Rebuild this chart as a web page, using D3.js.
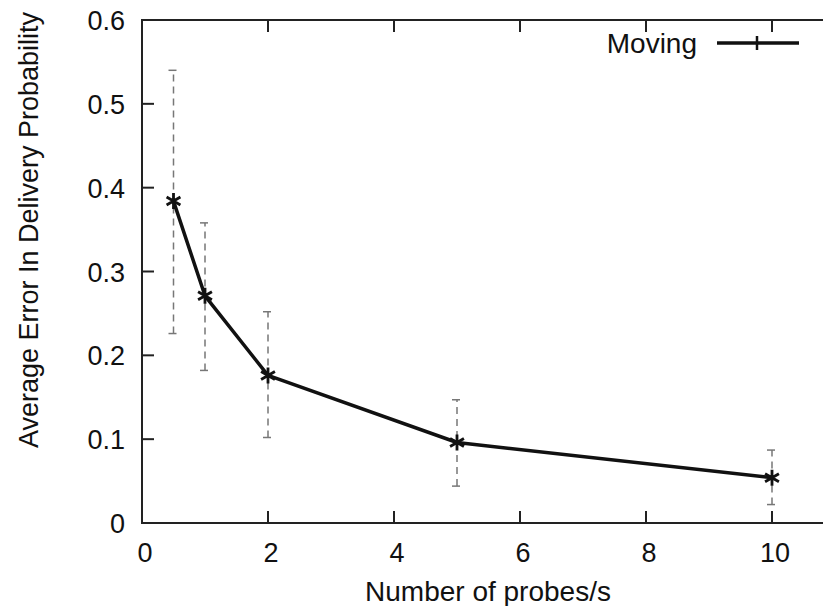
<!DOCTYPE html>
<html><head><meta charset="utf-8">
<script src="https://cdn.jsdelivr.net/npm/d3@7"></script>
<style>body{margin:0;background:#fff}svg{display:block}text{font-family:"Liberation Sans",Arial,sans-serif;fill:#111}</style>
</head><body><svg id="c" width="823" height="606"></svg>
<script>
const probes = [0.5, 1, 2, 5, 10];
const meanErr = [0.384, 0.271, 0.176, 0.096, 0.054];
const errLow = [0.226, 0.182, 0.102, 0.044, 0.022];
const errHigh = [0.540, 0.358, 0.252, 0.147, 0.087];
const xTicks = [0, 2, 4, 6, 8, 10];
const yTicks = [0, 0.1, 0.2, 0.3, 0.4, 0.5, 0.6];
const seriesName = "Moving";

const svg = d3.select("#c");
const x = d3.scaleLinear().domain([0, 11]).range([142, 835]);
const y = d3.scaleLinear().domain([0, 0.6]).range([523, 20]);
const L = 142, R = 835, T = 20, B = 523, tk = 12;
const FS = 27;

// frame
svg.append("rect").attr("x", L).attr("y", T).attr("width", R - L).attr("height", B - T)
  .attr("fill", "none").attr("stroke", "#222").attr("stroke-width", 2);

// ticks
xTicks.forEach(v => {
  svg.append("line").attr("x1", x(v)).attr("x2", x(v)).attr("y1", B).attr("y2", B - tk).attr("stroke", "#222").attr("stroke-width", 2);
  svg.append("line").attr("x1", x(v)).attr("x2", x(v)).attr("y1", T).attr("y2", T + tk).attr("stroke", "#222").attr("stroke-width", 2);
  svg.append("text").attr("x", x(v) + 3).attr("y", 562).attr("text-anchor", "middle").attr("font-size", FS).text(d3.format("d")(v));
});
yTicks.forEach(v => {
  svg.append("line").attr("x1", L).attr("x2", L + tk).attr("y1", y(v)).attr("y2", y(v)).attr("stroke", "#222").attr("stroke-width", 2);
  svg.append("line").attr("x1", R).attr("x2", R - tk).attr("y1", y(v)).attr("y2", y(v)).attr("stroke", "#222").attr("stroke-width", 2);
  svg.append("text").attr("x", 125).attr("y", y(v) + 10).attr("text-anchor", "end").attr("font-size", FS).text(v === 0 ? "0" : d3.format(".1f")(v));
});

// titles
svg.append("text").attr("x", 488).attr("y", 601).attr("text-anchor", "middle").attr("font-size", 28).text("Number of probes/s");
svg.append("text").attr("transform", "translate(38,230) rotate(-90)").attr("text-anchor", "middle").attr("font-size", FS).text("Average Error In Delivery Probability");

// error bars
const eb = svg.append("g").attr("stroke", "#777").attr("stroke-width", 1.5).attr("fill", "none");
probes.forEach((p, i) => {
  eb.append("line").attr("x1", x(p)).attr("x2", x(p)).attr("y1", y(errLow[i])).attr("y2", y(errHigh[i])).attr("stroke-dasharray", "7,5");
  [errLow[i], errHigh[i]].forEach(v => {
    eb.append("line").attr("x1", x(p) - 5).attr("x2", x(p) + 3).attr("y1", y(v)).attr("y2", y(v));
  });
});

// line
const line = d3.line().x((d, i) => x(probes[i])).y(d => y(d));
svg.append("path").datum(meanErr).attr("d", line).attr("fill", "none").attr("stroke", "#111").attr("stroke-width", 3.5).attr("stroke-linejoin", "round");

// markers
const star = d3.symbol().type(d3.symbolAsterisk).size(180);
probes.forEach((p, i) => {
  svg.append("path").attr("d", star()).attr("transform", `translate(${x(p)},${y(meanErr[i])})`)
    .attr("fill", "none").attr("stroke", "#111").attr("stroke-width", 2.8);
});

// legend
svg.append("text").attr("x", 697).attr("y", 53).attr("text-anchor", "end").attr("font-size", 28).text(seriesName);
svg.append("line").attr("x1", 717).attr("x2", 799).attr("y1", 43).attr("y2", 43).attr("stroke", "#111").attr("stroke-width", 3.5);
svg.append("line").attr("x1", 757).attr("x2", 757).attr("y1", 36).attr("y2", 50).attr("stroke", "#111").attr("stroke-width", 2.5);
</script></body></html>
